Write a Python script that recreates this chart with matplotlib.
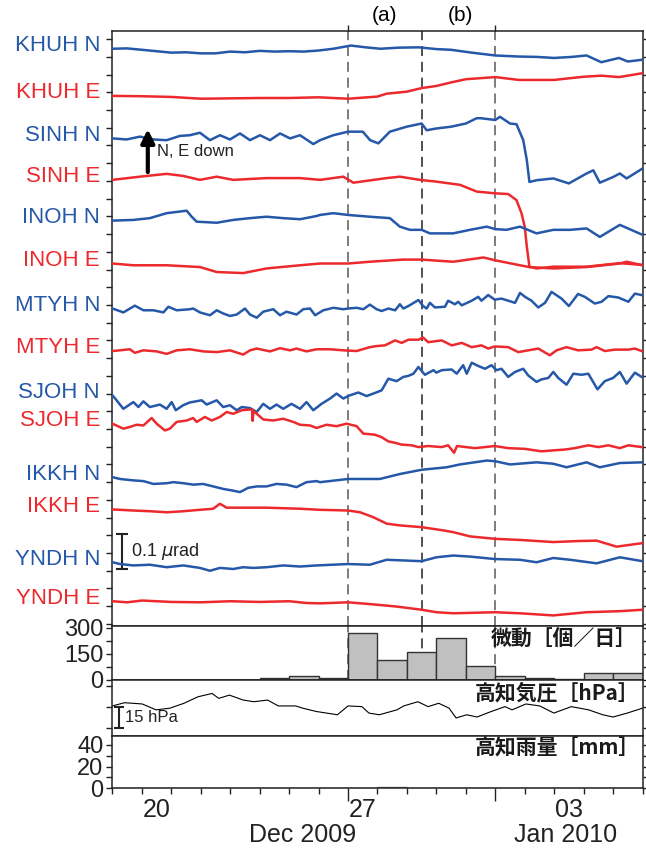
import numpy as np
import matplotlib.pyplot as plt
from matplotlib.ticker import MultipleLocator
import matplotlib.transforms as mtransforms

plt.rcParams['font.family'] = ['Liberation Sans', 'DejaVu Sans']

# x axis: days since 2009-12-19 00:00
# tilt traces: (day, tilt in nrad relative to the trace start), N/E down is positive
KHUH_N = [(0, 0), (0.5, 1), (1, -3), (1.5, -7), (2, -11), (2.5, -10), (3, -13), (3.5, -13), (4, -8),
          (4.5, -10), (5, -6), (5.5, -8), (6, -7), (6.5, -8), (7, -5), (7.5, 0), (8.1, 9), (8.6, 4),
          (9.1, 0), (9.7, 3), (10.4, 4), (11, -1), (11.5, -3), (12.2, -11), (13, -19), (13.8, -22),
          (14.4, -23), (15, -26), (15.6, -23), (16.1, -19), (16.6, -38), (17.2, -26), (17.5, -36), (18, -31)]
KHUH_E = [(0, 0), (1, -1), (2, -3), (3, -8), (4, -7), (5, -6), (6, -6), (7, -4), (8, -8), (9, -2),
          (9.3, 6), (10, 12), (10.5, 22), (11, 28), (11.5, 38), (12, 47), (13, 53), (13.8, 45),
          (15, 45), (16, 54), (16.6, 57), (17.2, 53), (18, 64)]
SINH_N = [(0, 0), (0.48, -3), (0.93, 5), (1.39, -3), (1.84, -5), (2.29, 7), (2.63, 9), (2.97, 16),
          (3.31, -5), (3.65, 9), (3.99, -3), (4.33, 14), (4.67, -5), (5.01, 9), (5.35, -5), (5.69, 14),
          (6.03, 0), (6.37, 9), (6.82, -16), (7.05, -5), (7.5, 9), (8.0, 19), (8.5, 19), (8.75, -5),
          (9.03, -14), (9.42, 19), (9.99, 33), (10.5, 42), (10.67, 23), (11.0, 28), (11.5, 33),
          (12.0, 42), (12.37, 57), (12.5, 57), (13.0, 52), (13.16, 61), (13.5, 42), (13.72, 40),
          (13.95, -5), (14.07, -61), (14.16, -123), (14.4, -118), (14.97, -113), (15.5, -127),
          (16.1, -99), (16.33, -90), (16.55, -125), (17.0, -109), (17.23, -99), (17.46, -113), (18.0, -85)]
SINH_E = [(0, 0), (0.93, 9), (1.84, 17), (2.41, 11), (2.97, 0), (3.54, 9), (4.1, 0), (5.23, 5),
          (6.37, 5), (7.05, 0), (7.84, 9), (8.18, -8), (9.31, 5), (9.76, 9), (10.44, 0), (11.0, -5),
          (11.8, -14), (12.37, -33), (13.0, -38), (13.44, -40), (13.72, -57), (13.89, -94), (14.0, -132),
          (14.07, -188), (14.16, -245), (14.4, -250), (14.97, -245), (16.1, -245), (17.23, -235), (18, -240)]
INOH_N = [(0, 0), (0.71, 2), (1.27, 7), (1.84, 21), (2.52, 28), (2.69, 11), (2.86, -3), (3.54, -6),
          (4.1, 2), (4.67, 7), (5.23, 11), (5.8, 7), (6.37, 4), (6.93, 13), (7.05, 16), (7.5, 21),
          (8.0, 16), (8.74, 11), (9.42, 7), (9.76, -17), (10.1, -26), (10.5, -26), (10.78, -36),
          (11.57, -36), (12.14, -26), (12.71, -17), (13.0, -24), (13.38, -26), (13.84, -17), (14.4, -36),
          (14.97, -26), (15.54, -26), (16.1, -22), (16.55, -46), (17.23, -12), (18, -40)]
INOH_E = [(0, 0), (0.71, -5), (1.84, -5), (2.97, -10), (3.54, -24), (4.44, -27), (5.23, -14),
          (6.37, -5), (7.05, 0), (8.0, 0), (8.74, 5), (9.87, 11), (10.5, 11), (11.57, 5), (12.6, 17),
          (13.0, 9), (13.84, -5), (14.16, -10), (14.97, -14), (16.1, -10), (17.23, 0), (17.46, 5), (18, -5)]
MTYH_N = [(0, 0), (0.37, -11), (0.76, 8), (1.05, -5), (1.39, -5), (1.73, -11), (1.9, 5), (2.18, -5),
          (2.63, -2), (2.74, 0), (2.97, -11), (3.31, -19), (3.54, -5), (3.76, -14), (3.99, -21),
          (4.22, -17), (4.5, 0), (4.67, -17), (4.9, -26), (5.12, -9), (5.46, -2), (5.69, -19), (5.91, -9),
          (6.25, -17), (6.48, -2), (6.71, 0), (6.88, -19), (7.16, -5), (7.5, 2), (7.84, -2), (8.01, 0),
          (8.29, 2), (8.52, -2), (8.74, 11), (8.97, -2), (9.14, -7), (9.37, 0), (9.6, -5), (9.76, 12),
          (9.88, 0), (10.05, 7), (10.39, 24), (10.55, 7), (10.67, 0), (10.78, 16), (10.95, 3), (11.29, 5),
          (11.4, 22), (11.63, 12), (11.74, 19), (11.86, 9), (12.2, 22), (12.42, 33), (12.53, 22),
          (12.76, 38), (12.98, 25), (13.21, 28), (13.44, 22), (13.67, 16), (13.84, 44), (14.01, 33),
          (14.23, 22), (14.46, 3), (14.69, 16), (14.91, 47), (15.25, 28), (15.5, 7), (15.81, 41),
          (16.04, 33), (16.38, 14), (16.61, 19), (16.84, 35), (17.18, 31), (17.52, 19), (17.74, 42), (17.97, 38)]
MTYH_E = [(0, 0), (0.25, 2), (0.59, 5), (0.76, -5), (1.05, 2), (1.5, -1), (1.84, -8), (2.18, 2),
          (2.63, 5), (3.08, -1), (3.54, -3), (3.99, 2), (4.44, -10), (4.67, 2), (4.9, 7), (5.35, -1),
          (5.69, 8), (6.03, 2), (6.25, 7), (6.59, -1), (6.93, 5), (7.39, 5), (7.84, 2), (8.29, 0),
          (8.74, 11), (8.97, 14), (9.25, 16), (9.6, 30), (9.82, 23), (10.05, 32), (10.39, 32), (10.55, 38),
          (10.72, 25), (11.18, 30), (11.52, 16), (11.86, 23), (12.2, 11), (12.53, 16), (12.76, 7),
          (12.98, 13), (13.44, 11), (13.78, -3), (14.12, 2), (14.46, 7), (14.85, -12), (15.08, 2),
          (15.42, 11), (15.81, 2), (16.27, 4), (16.44, 11), (16.72, 0), (17.06, 4), (17.52, 4), (17.74, 7), (17.97, 0)]
SJOH_N = [(0, 0), (0.1, -10), (0.37, -38), (0.71, -19), (0.88, -33), (1.05, -17), (1.27, -33),
          (1.61, -26), (1.84, -38), (2.01, -19), (2.15, -42), (2.4, -28), (2.63, -20), (3.03, -14),
          (3.2, -26), (3.37, -20), (3.54, -14), (3.76, -33), (3.99, -28), (4.22, -42), (4.39, -33),
          (4.67, -36), (4.9, -47), (5.12, -24), (5.35, -38), (5.57, -26), (5.8, -38), (6.08, -24),
          (6.37, -38), (6.59, -19), (6.82, -42), (7.1, -24), (7.39, -9), (7.61, 5), (7.84, -9), (8.06, 0),
          (8.35, 8), (8.63, -2), (8.86, 5), (9.14, 14), (9.37, 47), (9.65, 40), (9.88, 52), (10.05, 55),
          (10.22, 61), (10.39, 80), (10.61, 58), (10.9, 71), (11.0, 64), (11.18, 71), (11.52, 73),
          (11.69, 61), (11.91, 85), (12.03, 61), (12.2, 92), (12.42, 83), (12.65, 75), (12.87, 85),
          (13.04, 71), (13.21, 75), (13.44, 52), (13.67, 66), (13.95, 75), (14.12, 56), (14.4, 38),
          (14.57, 45), (14.8, 49), (14.97, 66), (15.14, 49), (15.42, 30), (15.65, 61), (15.93, 58),
          (16.16, 61), (16.47, 17), (16.72, 40), (17.0, 49), (17.23, 66), (17.46, 33), (17.74, 64), (17.97, 52)]
SJOH_E = [(0, 0), (0.37, -14), (0.6, -9), (0.82, -3), (1.05, -5), (1.33, 16), (1.5, 0), (1.78, -19),
          (1.95, -14), (2.18, 5), (2.52, 9), (2.74, 16), (2.86, 5), (3.14, 19), (3.37, 9), (3.65, 19),
          (3.88, 33), (4.1, 28), (4.39, 38), (4.67, 40), (4.74, 40), (4.76, 8), (4.79, 36), (5.12, 12),
          (5.46, 9), (5.8, 14), (6.14, 5), (6.37, -3), (6.71, -5), (6.93, -12), (7.27, -3), (7.61, -7),
          (7.95, 0), (8.29, -7), (8.52, -28), (8.91, -31), (9.14, -38), (9.37, -50), (9.6, -54),
          (9.82, -59), (10.16, -61), (10.39, -66), (10.72, -63), (11.18, -66), (11.4, -61), (11.6, -82),
          (11.7, -63), (12.31, -69), (12.65, -66), (12.98, -63), (13.44, -69), (14.01, -71), (14.57, -78),
          (15.02, -75), (15.36, -73), (15.7, -69), (16.16, -61), (16.5, -66), (16.84, -61), (17.23, -69),
          (17.52, -61), (17.97, -66)]
IKKH_N = [(0, 0), (0.26, -5), (0.71, -9), (1.05, -11), (1.39, -19), (1.84, -17), (2.07, -14),
          (2.41, -17), (2.75, -21), (3.08, -19), (3.42, -26), (3.76, -33), (4.1, -38), (4.33, -42),
          (4.61, -30), (4.9, -26), (5.23, -26), (5.57, -19), (5.91, -21), (6.25, -28), (6.59, -14),
          (6.93, -11), (7.05, -14), (8.0, -5), (9.08, -5), (9.76, 9), (10.5, 21), (11.35, 28), (11.8, 36),
          (12.71, 47), (13.0, 45), (13.5, 36), (14.4, 42), (14.97, 38), (15.42, 28), (16.1, 42),
          (16.55, 28), (17.23, 40), (18, 42)]
IKKH_E = [(0, 0), (0.71, -3), (1.27, -5), (1.84, -8), (2.41, -5), (2.97, -1), (3.42, 2), (3.65, 16),
          (3.88, 5), (4.33, 5), (5.23, 5), (6.37, 2), (7.05, -1), (8.0, -3), (8.41, -8), (8.86, -22),
          (9.31, -40), (9.76, -45), (10.5, -50), (11.23, -59), (11.57, -64), (12.14, -76), (13.0, -83),
          (13.84, -86), (14.97, -92), (15.87, -89), (16.44, -88), (17.12, -105), (18, -95)]
YNDH_N = [(0, 0), (0.26, -5), (0.71, -9), (1.27, -7), (1.84, -14), (2.41, -9), (2.97, -16), (3.31, -24),
          (3.65, -16), (4.1, -19), (4.44, -14), (4.78, -16), (5.23, -14), (5.8, -9), (6.37, -12),
          (6.93, -9), (8.0, -5), (8.74, -7), (9.31, 7), (10.5, 3), (11.0, 14), (11.57, 19), (12.14, 16),
          (13.0, 9), (13.84, 7), (14.4, 0), (14.97, 12), (15.54, 7), (16.44, -3), (17.23, 14), (18, 3)]
YNDH_E = [(0, 0), (0.5, -3), (1, 2), (2, -2), (3, -3), (4, 0), (5, -2), (6, 0), (6.6, -5), (7.05, -6),
          (8.0, -3), (8.74, -8), (9.65, -15), (10.5, -24), (11.0, -31), (11.57, -34), (13.0, -31),
          (13.84, -34), (14.97, -40), (16.1, -31), (17.23, -28), (18, -24)]

station_labels = ['KHUH N', 'KHUH E', 'SINH N', 'SINH E', 'INOH N', 'INOH E', 'MTYH N', 'MTYH E',
                  'SJOH N', 'SJOH E', 'IKKH N', 'IKKH E', 'YNDH N', 'YNDH E']
traces = [KHUH_N, KHUH_E, SINH_N, SINH_E, INOH_N, INOH_E, MTYH_N, MTYH_E,
          SJOH_N, SJOH_E, IKKH_N, IKKH_E, YNDH_N, YNDH_E]

# daily tremor counts, Dec 19 .. Jan 5
tremor_per_day = [1, 0, 0, 2, 2, 13, 21, 13, 272, 118, 159, 244, 82, 21, 13, 7, 43, 43]
rain_per_day = [0, 0, 0, 0, 0, 0, 0.4, 0, 0, 1.2, 0, 0, 0, 0, 0, 0, 0, 0]

# Kochi air pressure
pres_days = [0, 0.41, 1.01, 1.48, 1.95, 2.43, 2.9, 3.38, 3.61, 3.97, 4.44, 4.8, 5.27, 5.63, 6.22,
             6.46, 6.93, 7.64, 8.0, 8.47, 8.71, 9.06, 9.66, 9.89, 10.37, 10.72, 11.08, 11.43, 11.67,
             12.03, 12.38, 12.86, 13.33, 13.57, 14.04, 14.51, 14.99, 15.58, 16.17, 16.65, 17.0, 17.48, 18.0]
pres_hpa = [1015.7, 1018.0, 1017.1, 1012.9, 1014.1, 1017.6, 1022.2, 1024.6, 1021.1, 1023.4, 1019.9,
            1018.7, 1019.9, 1015.7, 1015.7, 1014.1, 1011.7, 1009.4, 1015.7, 1015.2, 1010.6, 1009.4,
            1012.9, 1015.7, 1018.7, 1015.2, 1017.6, 1014.1, 1007.1, 1009.4, 1007.8, 1011.7, 1015.2,
            1012.9, 1017.1, 1015.7, 1010.6, 1015.2, 1012.9, 1009.4, 1007.8, 1010.6, 1014.1]

event_days = [8, 10.5, 13]
day_labels = ['20', '27', '03']
day_label_pos = [1.5, 8.5, 15.5]
month_labels = ['Dec 2009', 'Jan 2010']
month_label_pos = [6.45, 15.4]

# vertical placement of each trace (urad)
offsets = [1.623, 1.490, 1.370, 1.253, 1.138, 1.017, 0.890, 0.770, 0.645, 0.565, 0.414, 0.323, 0.174, 0.064]

BLUE = '#2558a8'
RED = '#ec2a2e'
FRAME = '#222222'
JP = ['Noto Sans CJK JP', 'DejaVu Sans']

fig = plt.figure(figsize=(6.46, 8.5), dpi=100)
L, W = 0.1741, 0.8205
ax = fig.add_axes([L, 0.2641, W, 0.6994])
axb = fig.add_axes([L, 0.2000, W, 0.0641], sharex=ax)
axp = fig.add_axes([L, 0.1347, W, 0.0653], sharex=ax)
axr = fig.add_axes([L, 0.0729, W, 0.0618], sharex=ax)

for a in (ax, axb, axp, axr):
    for s in a.spines.values():
        s.set_linewidth(1.1)
        s.set_color(FRAME)
    a.tick_params(direction='out', length=4.5, width=1, color=FRAME, labelsize=17,
                  labelcolor='#222222', pad=2,
                  left=True, right=True, top=False, bottom=False, labelbottom=False)
    a.tick_params(which='minor', direction='out', length=4.5, width=1, color=FRAME,
                  left=True, right=True, top=False, bottom=False)

# main tilt panel
for i, (lab, tr, off) in enumerate(zip(station_labels, traces, offsets)):
    c = BLUE if lab.endswith('N') else RED
    d = np.array([p[0] for p in tr])
    v = np.array([p[1] for p in tr]) / 1000.0 + off
    ax.plot(d, v, color=c, lw=1.8, solid_joinstyle='round', zorder=3)
    ax.text(-0.42, off + 0.009, lab, color=c, fontsize=16, ha='right', va='center', clip_on=False)

ax.set_xlim(0, 18)
ax.set_ylim(-0.0045, 1.673)
ax.yaxis.set_major_locator(MultipleLocator(0.05))
ax.set_yticklabels([])
ax.xaxis.set_major_locator(MultipleLocator(1))
ax.tick_params(axis='x', top=True, bottom=False, labeltop=False, length=4.5)

for d, c in zip(event_days, ['#666666', '#333333', '#666666']):
    for a in (ax, axb):
        a.axvline(d, color=c, lw=1.2, ls=(0, (6, 3.5)), zorder=1)

top_tr = mtransforms.blended_transform_factory(ax.transData, ax.transAxes)
ax.text(9.25, 1.026, '(a)', transform=top_tr, fontsize=15, ha='center', va='center')
ax.text(11.8, 1.026, '(b)', transform=top_tr, fontsize=15, ha='center', va='center')

# arrow and scale bar
ax.annotate('', xy=(1.2, 1.396), xytext=(1.2, 1.275),
            arrowprops=dict(arrowstyle='-|>', lw=3, color='black', mutation_scale=20, shrinkA=0, shrinkB=0))
ax.text(1.5, 1.333, 'N, E down', fontsize=12, ha='left', va='center', color='#222222')
ax.errorbar([0.32], [0.2045], yerr=[0.05], color='#222222', lw=1.5, capsize=4, capthick=1.5)
ax.text(0.62, 0.2045, '0.1 $\\mu$rad', fontsize=13, ha='left', va='center', color='#222222')

# tremor counts
axb.bar(np.arange(len(tremor_per_day)), tremor_per_day, width=1, align='edge',
        color='#c0c0c0', edgecolor='#333333', lw=1, zorder=2)
axb.set_ylim(0, 314)
axb.set_yticks([0, 150, 300])
axb.yaxis.set_minor_locator(MultipleLocator(75))
axb.text(0.99, 0.95, '微動［個／日］', transform=axb.transAxes, ha='right', va='top',
         fontsize=15, fontweight='bold', family=JP, color='#1a1a1a', zorder=5)

# pressure
axp.plot(pres_days, pres_hpa, color='black', lw=0.8)
axp.set_ylim(994.6, 1034.2)
axp.set_yticks([1000, 1015, 1030])
axp.set_yticklabels([])
axp.errorbar([0.22], [1007.6], yerr=[7.5], color='#222222', lw=1.5, capsize=3.5, capthick=1.5)
axp.text(0.42, 1007.6, '15 hPa', fontsize=12, ha='left', va='center', color='#222222')
axp.text(0.995, 0.96, '高知気圧［hPa］', transform=axp.transAxes, ha='right', va='top',
         fontsize=15, fontweight='bold', family=JP, color='#1a1a1a')

# rain
axr.bar(np.arange(len(rain_per_day)), rain_per_day, width=1, align='edge',
        color='#c0c0c0', edgecolor='#777777', lw=1)
axr.set_ylim(0, 48.8)
axr.set_yticks([0, 20, 40])
axr.yaxis.set_minor_locator(MultipleLocator(10))
axr.text(0.995, 0.96, '高知雨量［mm］', transform=axr.transAxes, ha='right', va='top',
         fontsize=15, fontweight='bold', family=JP, color='#1a1a1a')

axr.xaxis.set_minor_locator(MultipleLocator(1))
axr.set_xticks([8, 13])
axr.tick_params(axis='x', which='major', bottom=True, length=9, labelbottom=False)
axr.tick_params(axis='x', which='minor', bottom=True, length=4.5)

for lab, x in zip(day_labels, day_label_pos):
    axr.annotate(lab, xy=(x, 0), xycoords=('data', 'axes fraction'), xytext=(0, -16),
                 textcoords='offset points', ha='center', va='center', fontsize=18, color='#222222')
for lab, x in zip(month_labels, month_label_pos):
    axr.annotate(lab, xy=(x, 0), xycoords=('data', 'axes fraction'), xytext=(0, -34),
                 textcoords='offset points', ha='center', va='center', fontsize=18, color='#222222')

fig.savefig('out.png', dpi=100)
